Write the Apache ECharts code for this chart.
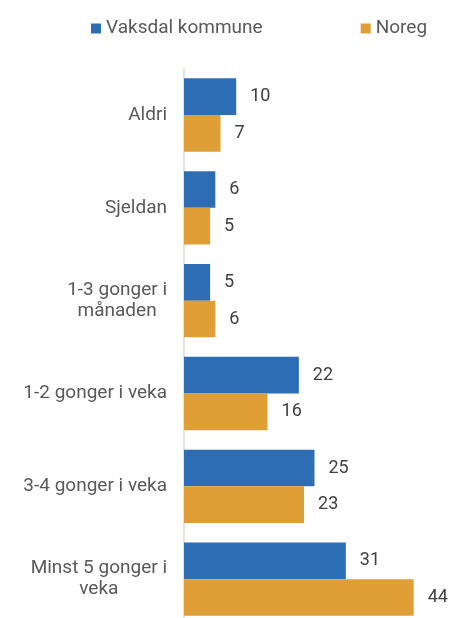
<!DOCTYPE html>
<html>
<head>
<meta charset="utf-8">
<script src="https://cdn.jsdelivr.net/npm/echarts@6/dist/echarts.min.js"></script>
<style>
  html, body { margin: 0; padding: 0; background: #fff; }
  #chart { width: 456px; height: 618px; }
</style>
</head>
<body>
<div id="chart"></div>
<script>
// data
const categories = ['Aldri', 'Sjeldan', '1-3 gonger i\nmånaden', '1-2 gonger i veka', '3-4 gonger i veka', 'Minst 5 gonger i\nveka']
const seriesNames = ['Vaksdal kommune', 'Noreg']
const vaksdal = [10, 6, 5, 22, 25, 31]
const noreg = [7, 5, 6, 16, 23, 44]

const myChart = echarts.init(document.getElementById('chart'))

const fontFamily = 'Roboto, "Noto Sans", sans-serif'

let option = {
  animation: false,
  color: ['#2c6db3', '#e09e37'],
  legend: {
    data: seriesNames,
    left: 86,
    top: 14,
    itemWidth: 10,
    itemHeight: 10,
    itemGap: 98,
    icon: 'rect',
    textStyle: { color: '#595959', fontSize: 19, fontFamily: fontFamily }
  },
  grid: {
    left: 184,
    right: 11,
    top: 68.6,
    height: 557,
    containLabel: false,
    outerBoundsMode: 'none'
  },
  xAxis: {
    type: 'value',
    min: 0,
    max: 50,
    show: false
  },
  yAxis: {
    type: 'category',
    data: categories,
    inverse: true,
    axisLine: { show: true, lineStyle: { color: '#d9d9d9', width: 1.5 } },
    axisTick: { show: false },
    axisLabel: {
      margin: 17,
      color: '#595959',
      fontSize: 19,
      fontFamily: fontFamily,
      formatter: function (val) {
        // centre the lines of wrapped labels inside their block
        return val.split('\n').map(function (s) { return '{c|' + s + '}' }).join('\n')
      },
      rich: {
        c: {
          align: 'center',
          color: '#595959',
          fontSize: 19,
          fontFamily: fontFamily,
          lineHeight: 21
        }
      }
    }
  },
  series: [
    {
      name: seriesNames[0],
      type: 'bar',
      data: vaksdal,
      barGap: '0%',
      barCategoryGap: '21%',
      label: {
        show: true,
        position: 'right',
        distance: 14,
        color: '#404040',
        fontSize: 18,
        fontFamily: fontFamily
      }
    },
    {
      name: seriesNames[1],
      type: 'bar',
      data: noreg,
      barGap: '0%',
      barCategoryGap: '21%',
      label: {
        show: true,
        position: 'right',
        distance: 14,
        color: '#404040',
        fontSize: 18,
        fontFamily: fontFamily
      }
    }
  ]
}

myChart.setOption(option)
</script>
</body>
</html>
